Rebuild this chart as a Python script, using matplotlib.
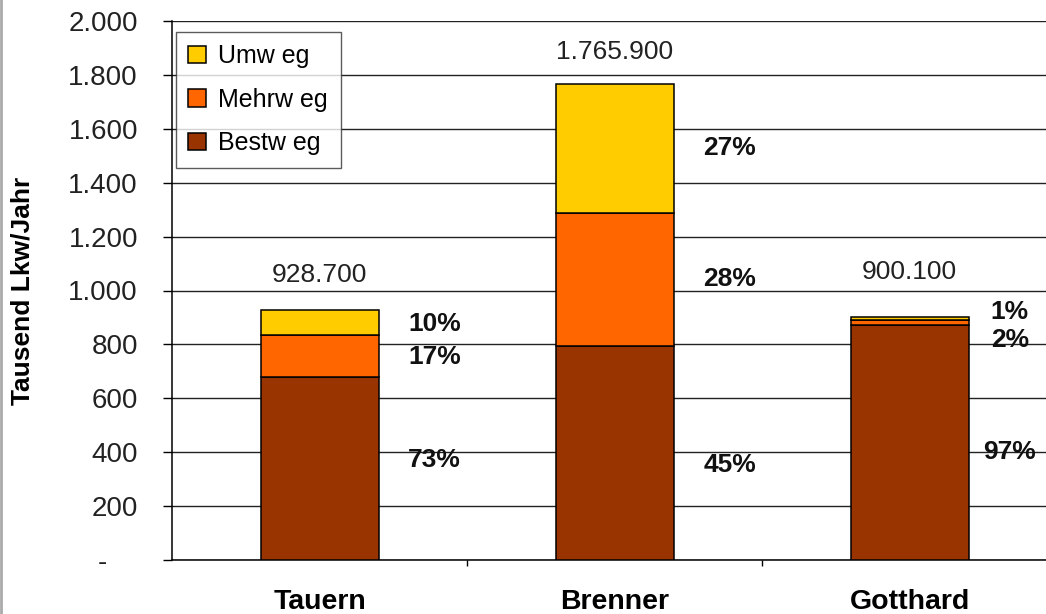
import matplotlib.pyplot as plt
from matplotlib.lines import Line2D
from matplotlib.ticker import FuncFormatter, FixedLocator

# Lkw-Verkehr je Alpenübergang (Tausend Lkw/Jahr) und Anteile je Route
passes = ['Tauern', 'Brenner', 'Gotthard']
totals = [928.7, 1765.9, 900.1]
share_bestweg = [73, 45, 97]
share_mehrweg = [17, 28, 2]
share_umweg = [10, 27, 1]
total_labels = ['928.700', '1.765.900', '900.100']

series_names = ['Bestw eg', 'Mehrw eg', 'Umw eg']
colors = ['#993300', '#FF6600', '#FFCC00']

plt.rcParams['font.family'] = ['Liberation Sans', 'DejaVu Sans']

# label nudges in points (per pass: bestweg, mehrweg, umweg)
pct_dy = [[6, -1, -1], [-9, 0, 0], [-7, -13, 5]]
pct_dx = [0.39, 0.39, 0.34]
total_dy = [25, 23, 33]


def fmt_tick(v, pos):
    if v == 0:
        return '-    '
    return f'{v:,.0f}'.replace(',', '.')


def main():
    fig = plt.figure(figsize=(10.46, 6.14), dpi=100)
    ax = fig.add_axes([172 / 1046, 54 / 614, 885 / 1046, 539 / 614])

    shares = [share_bestweg, share_mehrweg, share_umweg]
    x = list(range(len(passes)))
    bottoms = [0.0] * len(passes)
    handles = []
    for k, (sh, col, name) in enumerate(zip(shares, colors, series_names)):
        heights = [t * s / 100 for t, s in zip(totals, sh)]
        bars = ax.bar(x, heights, width=0.4, bottom=bottoms, color=col,
                      edgecolor='black', linewidth=1.1, label=name, zorder=3)
        handles.append(bars)
        for i in x:
            yc = bottoms[i] + heights[i] / 2
            ax.annotate(f'{sh[i]}%', (i + pct_dx[i], yc),
                        xytext=(0, pct_dy[i][k]), textcoords='offset points',
                        ha='center', va='center', fontsize=19,
                        fontweight='bold', color='#111111', zorder=4)
        bottoms = [b + h for b, h in zip(bottoms, heights)]

    for i in x:
        ax.annotate(total_labels[i], (i, bottoms[i]), xytext=(0, total_dy[i]),
                    textcoords='offset points', ha='center', va='center',
                    fontsize=19, color='#222222')

    ax.set_xlim(-0.5, 2.5)
    ax.set_ylim(0, 2000)
    ax.set_yticks(range(0, 2001, 200))
    ax.yaxis.set_major_formatter(FuncFormatter(fmt_tick))
    ax.yaxis.grid(True, color='#222222', linewidth=1.0, zorder=0)
    ax.set_axisbelow(True)

    ax.set_xticks(x)
    ax.set_xticklabels(passes, fontsize=20.5, fontweight='bold')
    ax.xaxis.set_minor_locator(FixedLocator([0.5, 1.5]))
    ax.tick_params(axis='x', which='major', length=0, pad=21)
    ax.tick_params(axis='x', which='minor', length=4.5, width=1,
                   direction='out')
    ax.tick_params(axis='y', length=6.5, width=1, pad=18, labelsize=20,
                   labelcolor='#222222')

    for side in ['top', 'right']:
        ax.spines[side].set_visible(False)
    ax.spines['left'].set_linewidth(1.1)
    ax.spines['bottom'].set_linewidth(1.1)

    ax.set_ylabel('Tausend Lkw/Jahr', fontsize=19, fontweight='bold',
                  va='center')
    ax.yaxis.set_label_coords((23 - 172) / 885, 0.5)

    leg = ax.legend(handles[::-1], series_names[::-1], loc='upper left',
                    bbox_to_anchor=(0.0045, 0.98), borderaxespad=0,
                    fontsize=18, frameon=True, fancybox=False,
                    edgecolor='#333333', handlelength=0.7, handleheight=0.7,
                    handletextpad=0.5, labelspacing=0.78, borderpad=0.5)
    leg.get_frame().set_linewidth(1.0)

    # thin frame line on the left edge of the picture
    fig.add_artist(Line2D([0.001, 0.001], [0, 1], color='#aaaaaa',
                          linewidth=2, transform=fig.transFigure))

    fig.savefig('out.png', dpi=100)


if __name__ == '__main__':
    main()
